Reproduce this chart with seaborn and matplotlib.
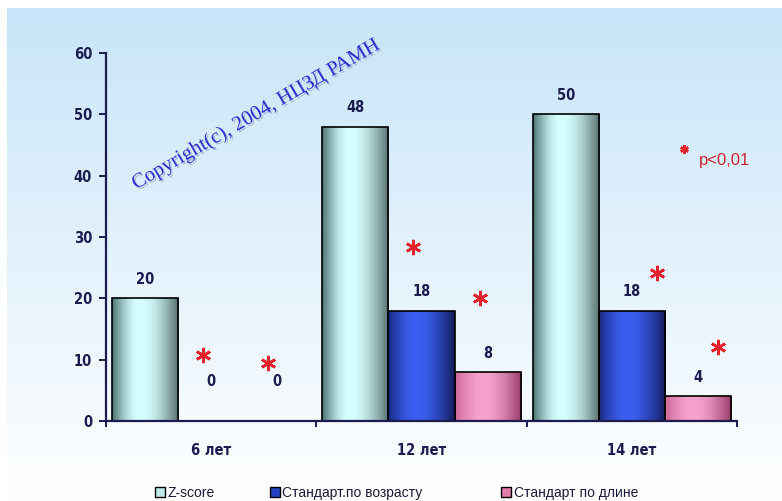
import numpy as np
import pandas as pd
import matplotlib
matplotlib.use("Agg")
import matplotlib.pyplot as plt
import matplotlib.patheffects as pe
from matplotlib.patches import Patch
from matplotlib.colors import to_rgb
from matplotlib import font_manager
import seaborn as sns

# ---- data ----
ages = ["6 лет", "12 лет", "14 лет"]
series_names = ["Z-score", "Стандарт.по возрасту", "Стандарт по длине"]
z_score = [20, 48, 50]
std_age = [0, 18, 18]
std_length = [0, 8, 4]

# significance asterisks: position along the category axis and height
star_x = [-0.04, 0.27, 0.96, 1.28, 2.12, 2.41]
star_y = [10.8, 9.5, 28.4, 20.1, 24.1, 12.1]

y_ticks = [0, 10, 20, 30, 40, 50, 60]

# ---- styling ----
NAVY = "#1c1c4e"
RED = "#e3222c"
base_colors = ["#bfeaea", "#2442c4", "#e27aac"]
# (left edge, highlight, right edge) of the cylinder-like shading
shades = [
    ("#4c7272", "#d6ffff", "#587070"),
    ("#1a2a80", "#3a5ef0", "#121c58"),
    ("#cc6898", "#f6a2cc", "#983a68"),
]

sns.set_style("white")
plt.rcParams["font.family"] = ["Liberation Sans", "DejaVu Sans"]

# condensed bold face for numbers and category names
narrow_fp = font_manager.FontProperties(family="DejaVu Sans", weight="bold",
                                        stretch="condensed", size=10.5)

df = pd.DataFrame({
    "age": ages * 3,
    "series": [s for s in series_names for _ in ages],
    "value": z_score + std_age + std_length,
})

fig = plt.figure(figsize=(7.82, 5.01), dpi=100)
fig.patch.set_facecolor("white")

# light-blue to white background panel
bg = fig.add_axes([7 / 782, 0, 1 - 7 / 782, 493 / 501], zorder=0)
top = np.array(to_rgb("#c8e5f9"))
bottom = np.array([1.0, 1.0, 1.0])
t = np.linspace(0, 1, 256)[:, None, None]
bg.imshow(top + (bottom - top) * t, aspect="auto", extent=[0, 1, 0, 1])
bg.axis("off")

ax = fig.add_axes([106 / 782, 80 / 501, 631 / 782, 368 / 501], zorder=1)
ax.patch.set_alpha(0)

sns.barplot(data=df, x="age", y="value", hue="series", order=ages,
            hue_order=series_names, palette=base_colors, saturation=1,
            width=0.943, gap=0, edgecolor="black", linewidth=1.2,
            legend=False, ax=ax)


def shade_row(left, hi, right, n=200, peak=0.42):
    left, hi, right = (np.array(to_rgb(c)) for c in (left, hi, right))
    u = np.linspace(0, 1, n)
    out = np.empty((1, n, 3))
    for i, v in enumerate(u):
        if v < peak:
            s = np.sin(v / peak * np.pi / 2)
            out[0, i] = left + (hi - left) * s
        else:
            s = 1 - np.cos((v - peak) / (1 - peak) * np.pi / 2)
            out[0, i] = hi + (right - hi) * s
    return out


for cont, sh in zip(ax.containers, shades):
    row = shade_row(*sh)
    for bar in cont:
        x, y = bar.get_x(), bar.get_y()
        w, h = bar.get_width(), bar.get_height()
        if h > 0:
            im = ax.imshow(row, aspect="auto", extent=[x, x + w, y, y + h],
                           zorder=2, interpolation="bilinear")
            im.set_clip_path(bar)
        bar.set_facecolor("none")
        bar.set_zorder(3)
        # value label above the bar
        pad = 8 if h > 0 else 23
        ax.annotate(f"{h:g}", xy=(x + w / 2, h), xytext=(0, pad),
                    textcoords="offset points", ha="center", va="bottom",
                    fontproperties=narrow_fp, color=NAVY)

ax.set_xlim(-0.5, 2.5)
ax.set_ylim(0, 60)

# significance asterisks
ax.plot(star_x, star_y, linestyle="none", marker=(6, 2, 0), markersize=11,
        markeredgewidth=1.9, color=RED, zorder=4)
ax.plot([2.248], [44.4], linestyle="none", marker=(6, 2, 0), markersize=6,
        markeredgewidth=1.8, color=RED, zorder=4)
ax.text(2.32, 42.4, "p<0,01", color="#cc2630", fontsize=12, ha="left",
        va="center")

# copyright watermark
ax.text(0.21, 49.9, "Copyright(c), 2004, НЦЗД РАМН", rotation=30,
        rotation_mode="anchor", ha="center", va="center", fontsize=14.8,
        family=["Liberation Serif", "DejaVu Serif"], color="#2f2fd2",
        path_effects=[pe.withSimplePatchShadow(offset=(1.2, -1.2),
                                               shadow_rgbFace="#8a9ac8",
                                               alpha=0.6)], zorder=5)

# axes
for side in ("top", "right"):
    ax.spines[side].set_visible(False)
for side in ("left", "bottom"):
    ax.spines[side].set_color(NAVY)
    ax.spines[side].set_linewidth(1.6)
ax.spines["bottom"].set_zorder(6)

ax.set_yticks(y_ticks)
ax.set_yticklabels([str(v) for v in y_ticks], fontproperties=narrow_fp,
                   color=NAVY)
ax.tick_params(axis="y", direction="out", length=5, width=1.4, color=NAVY,
               pad=5, left=True)

ax.set_xticks([-0.5, 0.5, 1.5, 2.5])
ax.set_xticklabels([])
ax.set_xticks([0, 1, 2], minor=True)
ax.set_xticklabels(ages, minor=True, fontproperties=narrow_fp, color=NAVY)
ax.tick_params(axis="x", which="major", direction="out", length=4,
               width=1.4, color=NAVY, bottom=True)
ax.tick_params(axis="x", which="minor", length=0, pad=16)
ax.set_xlabel("")
ax.set_ylabel("")
ax.grid(False)

# legend entries laid out in fixed-width slots along the bottom
slot_left = [155, 270, 501]
for name, color, left in zip(series_names, base_colors, slot_left):
    fig.legend([Patch(facecolor=color, edgecolor="black", linewidth=1)],
               [name], loc="center left",
               bbox_to_anchor=(left / 782, 8 / 501), frameon=False,
               fontsize=10, handlelength=0.7, handleheight=0.7,
               handletextpad=0.2, borderpad=0, borderaxespad=0,
               labelcolor="#1a1a3a")

fig.savefig("out.png", dpi=100)
